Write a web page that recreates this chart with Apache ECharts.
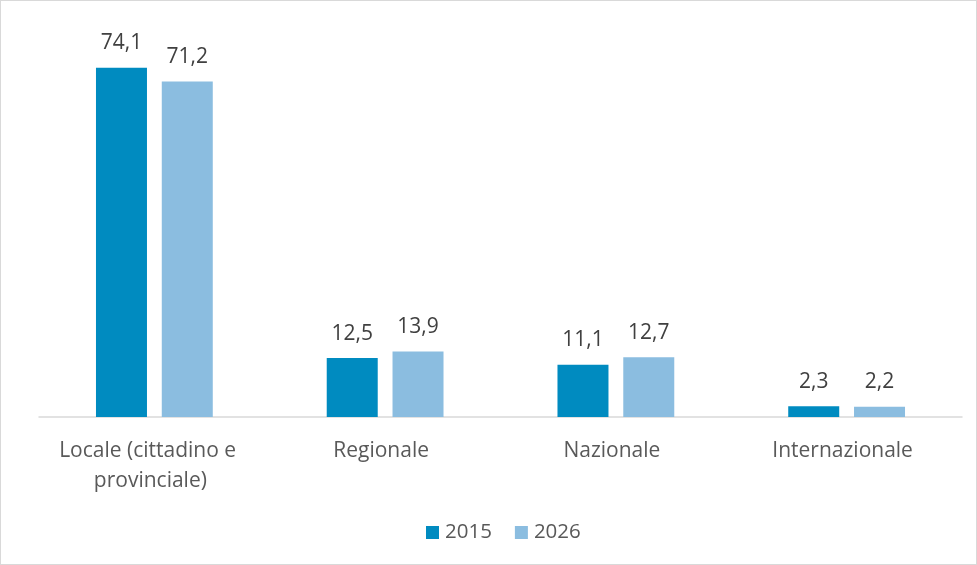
<!DOCTYPE html>
<html>
<head>
    <meta charset="UTF-8">
    <title>Ambito</title>
    <script type="text/javascript" src="https://cdn.jsdelivr.net/npm/echarts@6/dist/echarts.min.js"></script>
    <style type="text/css">
        html, body { margin: 0; padding: 0; background: #fff; }
        #chart {
            width: 975px;
            height: 563px;
            border: 1px solid #d9d9d9;
        }
    </style>
</head>
<body>
<div id="chart"></div>
<script type="text/javascript">
    // categorie e valori
    var categories = ['Locale (cittadino e \nprovinciale)', 'Regionale', 'Nazionale', 'Internazionale'];
    var values2015 = [74.1, 12.5, 11.1, 2.3];
    var values2026 = [71.2, 13.9, 12.7, 2.2];
    var seriesNames = ['2015', '2026'];

    var font = '"Open Sans", sans-serif';

    function labelFmt(p) {
        return String(p.value).replace('.', ',');
    }

    var chart = echarts.init(document.getElementById('chart'));
    chart.setOption({
        animation: false,
        textStyle: {fontFamily: font},
        color: ['#008bc0', '#8bbde0'],
        grid: {left: 38, right: 14, top: 39, bottom: 147},
        legend: {
            bottom: 16,
            left: 420,
            itemWidth: 13,
            itemHeight: 13,
            itemGap: 23,
            icon: 'rect',
            textStyle: {fontSize: 20.5, color: '#595959', fontFamily: font, padding: [0, 0, 0, 1]},
            data: seriesNames
        },
        xAxis: {
            type: 'category',
            data: categories,
            axisLine: {lineStyle: {color: '#d9d9d9', width: 1.5}},
            axisTick: {show: false},
            axisLabel: {
                interval: 0,
                hideOverlap: false,
                fontSize: 21,
                color: '#595959',
                margin: 19,
                lineHeight: 30,
                padding: [0, 8, 0, 0],
                fontFamily: font
            }
        },
        yAxis: {
            type: 'value',
            min: 0,
            max: 80,
            show: false,
            splitLine: {show: false}
        },
        series: [
            {
                name: seriesNames[0],
                type: 'bar',
                data: values2015,
                barWidth: 51,
                barGap: '29%',
                label: {show: true, position: 'top', distance: 14, fontSize: 21, color: '#404040', formatter: labelFmt}
            },
            {
                name: seriesNames[1],
                type: 'bar',
                data: values2026,
                barWidth: 51,
                label: {show: true, position: 'top', distance: 14, fontSize: 21, color: '#404040', formatter: labelFmt}
            }
        ]
    });
</script>
</body>
</html>
